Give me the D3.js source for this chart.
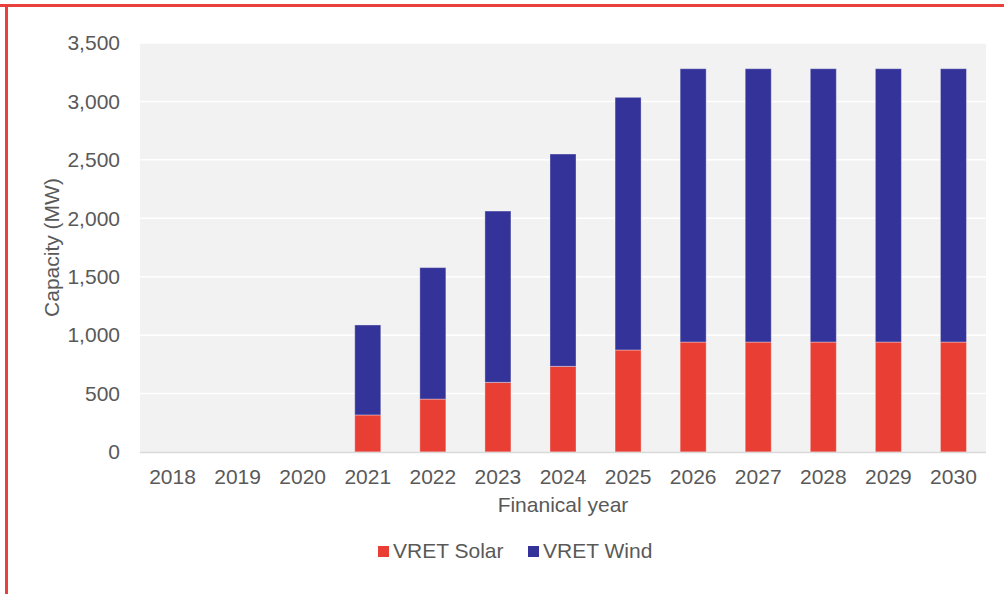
<!DOCTYPE html>
<html>
<head>
<meta charset="utf-8">
<script src="https://cdn.jsdelivr.net/npm/d3@7"></script>
<style>
  body { margin: 0; background: #fff; }
  text { font-family: "Liberation Sans", Arial, sans-serif; fill: #595959; }
</style>
</head>
<body>
<svg id="chart"></svg>
<script>
const years = ['2018', '2019', '2020', '2021', '2022', '2023', '2024', '2025', '2026', '2027', '2028', '2029', '2030'];
const solar = [0, 0, 0, 317, 453, 596, 733, 873, 941, 941, 941, 941, 941];
const wind = [0, 0, 0, 770, 1125, 1466, 1817, 2162, 2339, 2339, 2339, 2339, 2339];
const seriesNames = ['VRET Solar', 'VRET Wind'];
const colors = ['#e83e33', '#333399'];
const yTicks = [0, 500, 1000, 1500, 2000, 2500, 3000, 3500];

const width = 1004;
const height = 594;
const marginTop = 43;
const marginRight = 18;
const marginBottom = 142;
const marginLeft = 140;

const svg = d3.select('#chart')
  .attr('width', width)
  .attr('height', height);

// red frame (top + left)
svg.append('rect').attr('x', 0).attr('y', 4).attr('width', width).attr('height', 3).attr('fill', '#e8403a');
svg.append('rect').attr('x', 5).attr('y', 4).attr('width', 3).attr('height', height).attr('fill', '#e8403a');

const x = d3.scaleBand()
  .domain(years)
  .range([marginLeft, width - marginRight])
  .paddingInner(0.6)
  .paddingOuter(0.3);

const y = d3.scaleLinear()
  .domain([0, 3500])
  .range([height - marginBottom, marginTop]);

// plot background
svg.append('rect')
  .attr('x', marginLeft)
  .attr('y', marginTop)
  .attr('width', width - marginRight - marginLeft)
  .attr('height', height - marginBottom - marginTop)
  .attr('fill', '#f2f2f2');

// gridlines
svg.append('g')
  .selectAll('line')
  .data(yTicks.slice(1))
  .enter()
  .append('line')
  .attr('x1', marginLeft)
  .attr('x2', width - marginRight)
  .attr('y1', d => y(d))
  .attr('y2', d => y(d))
  .attr('stroke', '#ffffff')
  .attr('stroke-width', 1.5);

// stack the two series
const rows = years.map((yr, i) => ({ year: yr, 'VRET Solar': solar[i], 'VRET Wind': wind[i] }));
const stacked = d3.stack().keys(seriesNames)(rows);

svg.append('g')
  .selectAll('g')
  .data(stacked)
  .enter()
  .append('g')
  .attr('fill', (d, i) => colors[i])
  .selectAll('rect')
  .data(d => d.filter(p => p[1] > p[0]))
  .enter()
  .append('rect')
  .attr('x', d => x(d.data.year))
  .attr('width', x.bandwidth())
  .attr('y', d => y(d[1]))
  .attr('height', d => y(d[0]) - y(d[1]))
  .attr('stroke', 'rgba(255,255,255,0.35)')
  .attr('stroke-width', 1);

// baseline
svg.append('line')
  .attr('x1', marginLeft)
  .attr('x2', width - marginRight)
  .attr('y1', y(0) + 0.5)
  .attr('y2', y(0) + 0.5)
  .attr('stroke', '#d9d9d9')
  .attr('stroke-width', 1.5);

// Y axis
const yAxis = svg.append('g')
  .attr('transform', `translate(${marginLeft - 20},0)`)
  .call(d3.axisLeft(y).tickValues(yTicks).tickSize(0).tickPadding(0).tickFormat(d3.format(',')));
yAxis.select('.domain').remove();
yAxis.selectAll('text')
  .style('font-size', '21px')
  .attr('fill', '#595959');

// X axis
const xAxis = svg.append('g')
  .attr('transform', `translate(0,${y(0) + 17})`)
  .call(d3.axisBottom(x).tickSize(0).tickPadding(0));
xAxis.select('.domain').remove();
xAxis.selectAll('text')
  .style('font-size', '21px')
  .attr('fill', '#595959');

// axis titles
svg.append('text')
  .attr('x', (marginLeft + width - marginRight) / 2)
  .attr('y', 512)
  .attr('text-anchor', 'middle')
  .style('font-size', '21px')
  .text('Finanical year');

svg.append('text')
  .attr('transform', 'rotate(-90)')
  .attr('x', -(marginTop + y(0)) / 2)
  .attr('y', 59)
  .attr('text-anchor', 'middle')
  .style('font-size', '21px')
  .text('Capacity (MW)');

// legend
const legendX = [378, 528];
const legend = svg.append('g')
  .selectAll('g')
  .data(seriesNames)
  .enter()
  .append('g')
  .attr('transform', (d, i) => `translate(${legendX[i]},546)`);
legend.append('rect')
  .attr('width', 11)
  .attr('height', 11)
  .attr('fill', (d, i) => colors[i]);
legend.append('text')
  .attr('x', 15)
  .attr('y', 12)
  .style('font-size', '21px')
  .text(d => d);
</script>
</body>
</html>
